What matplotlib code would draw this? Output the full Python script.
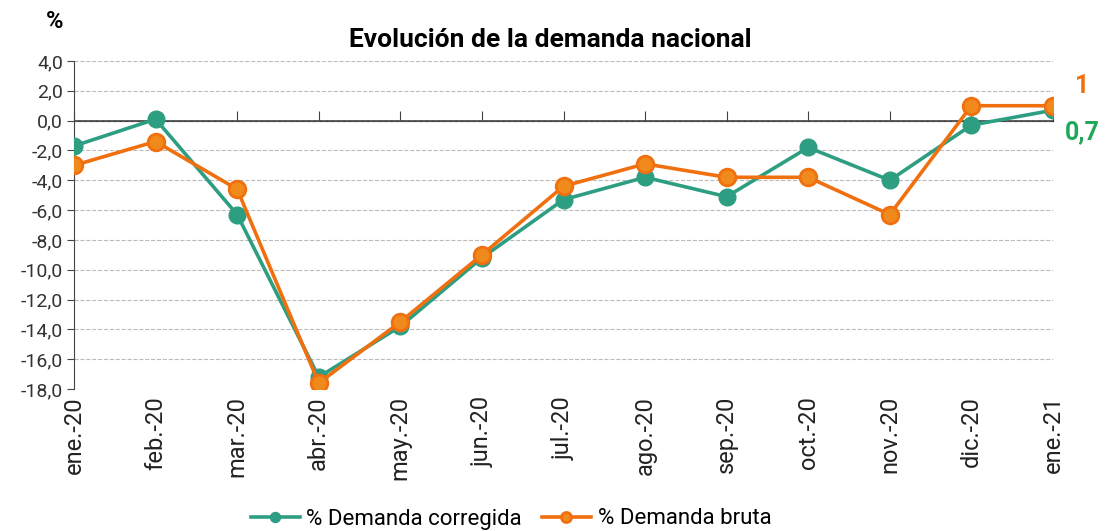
import matplotlib
matplotlib.use("Agg")
from matplotlib import pyplot as plt
import numpy as np

plt.rcParams['font.family'] = ['Roboto', 'DejaVu Sans']

months = ['ene.-20', 'feb.-20', 'mar.-20', 'abr.-20', 'may.-20', 'jun.-20', 'jul.-20',
          'ago.-20', 'sep.-20', 'oct.-20', 'nov.-20', 'dic.-20', 'ene.-21']
corregida = [-1.7, 0.1, -6.3, -17.2, -13.8, -9.2, -5.3, -3.8, -5.1, -1.8, -4.0, -0.3, 0.7]
bruta = [-3.0, -1.4, -4.6, -17.6, -13.5, -9.0, -4.4, -2.9, -3.8, -3.8, -6.3, 1.0, 1.0]
yticks = np.arange(-18, 5, 2)

green = '#2E9E82'
orange = '#F07010'

fig = plt.figure(figsize=(11.05, 5.31), dpi=100)
ax = fig.add_axes([74 / 1105, 1 - 389 / 531, 979 / 1105, 328 / 531])
x = np.arange(len(months))

ax.plot(x, corregida, color=green, lw=2.6, marker='o', ms=12, label='% Demanda corregida', zorder=3)
ax.plot(x, bruta, color=orange, lw=2.6, marker='o', ms=12, mfc='#F08A1C', mec=orange, mew=2,
        label='% Demanda bruta', zorder=4)

ax.set_xlim(0, 12)
ax.set_ylim(-18, 4)
ax.set_yticks(yticks)
ax.set_yticklabels([f'{v:.1f}'.replace('.', ',') for v in yticks], fontsize=14, color='#333333')
ax.yaxis.grid(True, ls='--', color='#bbbbbb', lw=0.8)
ax.set_axisbelow(True)

ax.set_xticks(x)
ax.set_xticklabels(months, rotation=90, fontsize=17, color='#222222')
ax.tick_params(axis='x', length=0, pad=5)
ax.tick_params(axis='y', length=5, color='#444444', pad=3)

for s in ['top', 'right', 'bottom']:
    ax.spines[s].set_visible(False)
ax.spines['left'].set_color('#444444')

# zero line with month ticks
ax.axhline(0, color='#444444', lw=1.2, zorder=2)
sec = ax.secondary_xaxis((0 - (-18)) / 22)
sec.set_xticks(x)
sec.set_xticklabels([])
sec.tick_params(axis='x', direction='out', length=7, color='#444444')
sec.spines['bottom'].set_visible(False)

ax.text(12.27, 1.5, '1', color=orange, fontsize=18, fontweight='bold', ha='left', va='bottom',
        clip_on=False)
ax.text(12.14, -0.75, '0,7', color='#1FA85A', fontsize=18, fontweight='bold', ha='left', va='center',
        clip_on=False)

fig.text(550 / 1105, 1 - 40 / 531, 'Evolución de la demanda nacional', ha='center', va='center',
         fontsize=19, fontweight='bold')
fig.text(55 / 1105, 1 - 22 / 531, '%', ha='center', va='center', fontsize=17, fontweight='bold')

fig.legend(loc='center', bbox_to_anchor=(511 / 1105, 1 - 519 / 531), ncol=2, frameon=False,
           fontsize=16, handlelength=2.2, columnspacing=0.9, handletextpad=0.3, markerscale=0.6)

fig.savefig('out.png', dpi=100)
